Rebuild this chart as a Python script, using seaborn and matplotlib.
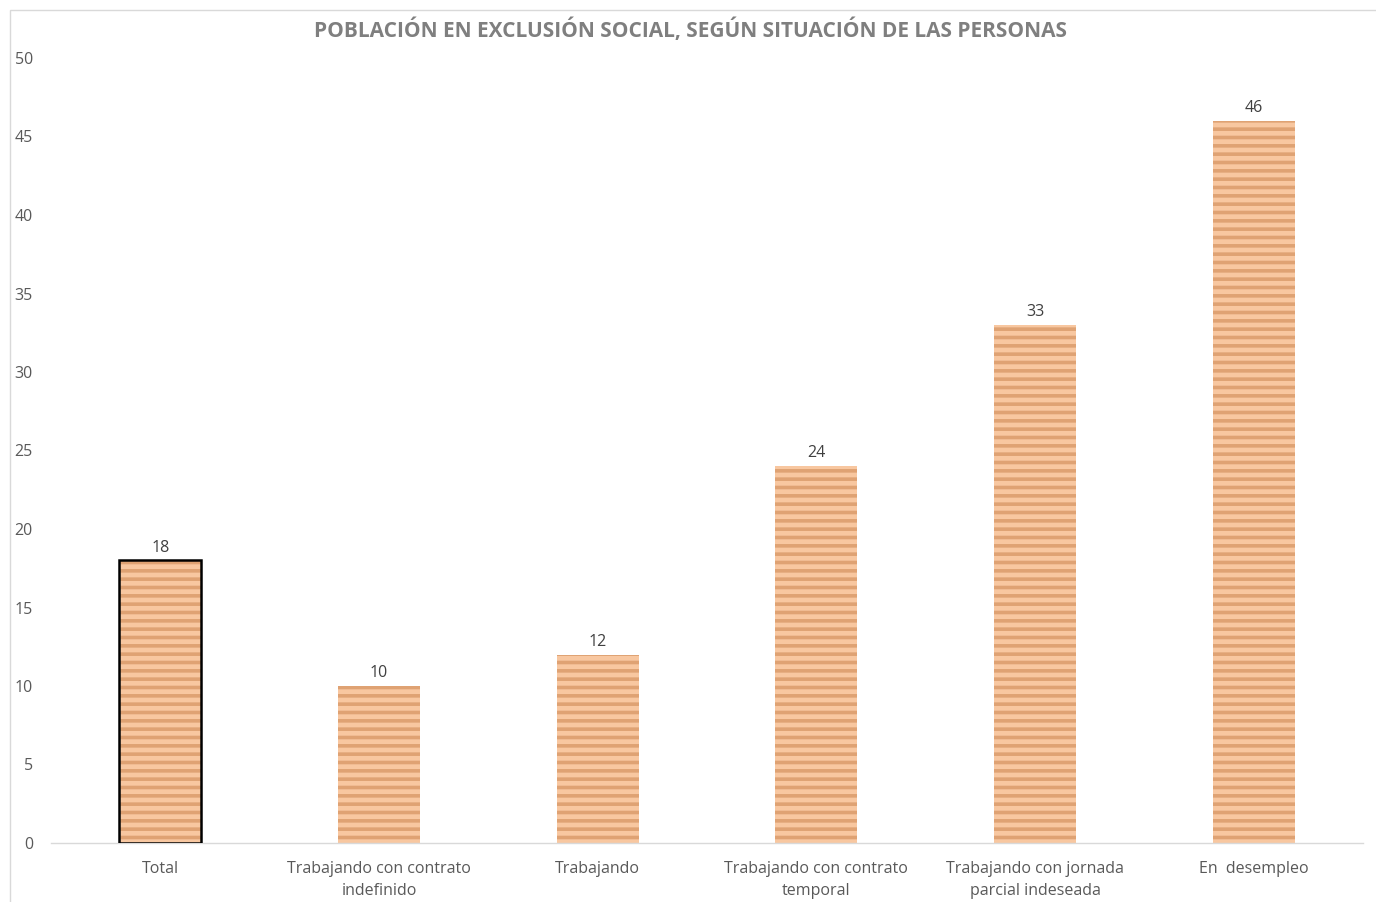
import matplotlib
matplotlib.use("Agg")
import matplotlib.pyplot as plt
import seaborn as sns
import pandas as pd
from matplotlib.patches import Rectangle

categories = ["Total", "Trabajando con contrato\nindefinido", "Trabajando",
              "Trabajando con contrato\ntemporal", "Trabajando con jornada\nparcial indeseada",
              "En  desempleo"]
values = [18, 10, 12, 24, 33, 46]
yticks = [0, 5, 10, 15, 20, 25, 30, 35, 40, 45, 50]
title = "POBLACIÓN EN EXCLUSIÓN SOCIAL, SEGÚN SITUACIÓN DE LAS PERSONAS"

sns.set_theme(style="white")
plt.rcParams['font.family'] = ['Open Sans', 'DejaVu Sans']
plt.rcParams['hatch.linewidth'] = 2.6

df = pd.DataFrame({"cat": categories, "val": values})

fig = plt.figure(figsize=(13.76, 9.02), dpi=100)
ax = fig.add_axes([51/1376, 1-843/902, (1363-51)/1376, (843-58)/902])

sns.barplot(data=df, x="cat", y="val", ax=ax, color="#F8C7A0", width=0.375,
            edgecolor="#DFA273", linewidth=0, hatch="--", saturation=1)

# Black outline on the Total bar
p0 = ax.patches[0]
bb = p0.get_bbox()
ax.add_patch(Rectangle((bb.x0, bb.y0), bb.width, bb.height, fill=False,
                       edgecolor="black", linewidth=1.8, zorder=5))

for p, v in zip(ax.patches, values):
    ax.annotate(f"{v}", (p.get_x() + p.get_width()/2, v), xytext=(0, 3.5),
                textcoords="offset points", ha="center", va="bottom",
                fontsize=11.5, color="#404040")

ax.set_ylim(0, 50)
ax.set_yticks(yticks)
ax.set_xlim(-0.5, len(categories) - 0.5)
ax.set_xlabel("")
ax.set_ylabel("")
ax.tick_params(axis="y", labelsize=11.5, colors="#595959", length=0, pad=13)
ax.tick_params(axis="x", labelsize=11.5, colors="#595959", length=0, pad=13)
for lbl in ax.get_xticklabels():
    lbl.set_linespacing(1.5)
for s in ["top", "right", "left"]:
    ax.spines[s].set_visible(False)
ax.spines["bottom"].set_color("#D9D9D9")
ax.spines["bottom"].set_linewidth(1.0)

fig.text(690/1376, 1-30/902, title, ha="center", va="center", fontsize=15,
         fontweight="bold", color="#7F7F7F")

# chart-area border
fig.patches.append(Rectangle((10/1376, -0.2), 1.2, 1-10/902 + 0.2, fill=False,
                             edgecolor="#D9D9D9", linewidth=1.0,
                             transform=fig.transFigure, figure=fig))

fig.savefig("out.png", dpi=100)
